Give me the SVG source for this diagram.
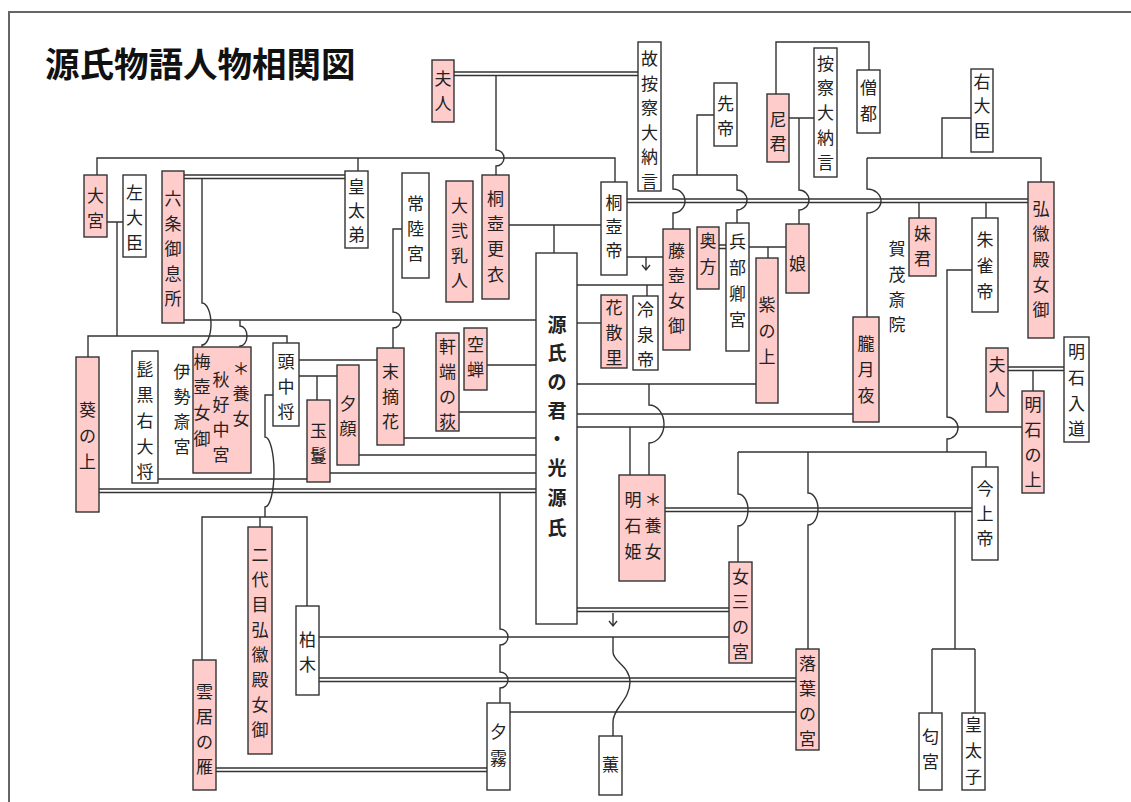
<svg xmlns="http://www.w3.org/2000/svg" width="1131" height="802" viewBox="0 0 1131 802">
<style>
.p{fill:#ffcccc;stroke:#333;stroke-width:1.4}
.w{fill:#fff;stroke:#333;stroke-width:1.4}
.t{font-family:"Noto Sans CJK JP","Noto Sans CJK SC",sans-serif;font-size:17px;text-anchor:middle;dominant-baseline:central;fill:#222}
.g{font-weight:bold;font-size:19px}
.c{fill:none;stroke:#333;stroke-width:1.4}
</style>
<rect width="1131" height="802" fill="#fff"/>
<path d="M9,802 V12 H1131" fill="none" stroke="#666" stroke-width="2"/>
<text x="45" y="77" font-family="'Noto Sans CJK JP','Noto Sans CJK SC',sans-serif" font-size="34.5" font-weight="bold" fill="#111">源氏物語人物相関図</text>

<g id="connectors" class="c">
<path d="M97,175 V158 H615 V182 M358,158 V171"/>
<path d="M454,72 H638 M454,75.5 H638"/>
<path d="M496,75.5 V150 A8 8 0 0 1 496,166 V175"/>
<path d="M107,222 H123 M117,222 V336 M88,357 V336 H287 V343"/>
<path d="M184,175 H345 M184,178.5 H345"/>
<path d="M202,178.5 V303 A9 21 0 0 1 202,345 V347"/>
<path d="M184,320 H536"/>
<path d="M240,320 V326 A7 10 0 0 1 240,346 V347"/>
<path d="M402,229 H393 V312 A8 8 0 0 1 393,328 V348"/>
<path d="M487,365 H536 M459,412 H536 M404,438 H536 M359,455 H536 M330,473 H536"/>
<path d="M99,489 H536 M99,492.5 H536"/>
<path d="M299,360 H377 M299,376 H337 M317,376 V400 M158,479 H307"/>
<path d="M273,395 H265 V437 A9 35 0 0 1 265,507 V517"/>
<path d="M202,660 V517 H307 V606 M260,517 V527"/>
<path d="M216,768 H487 M216,771.5 H487"/>
<path d="M319,637 H729"/>
<path d="M319,678 H796 M319,681.5 H796"/>
<path d="M500,492.5 V629 A8 8 0 0 1 500,645 V672 A8 8 0 0 1 500,688 V703"/>
<path d="M510,712 H796"/>
<path d="M577,608 H729 M577,611.5 H729"/>
<path d="M613,613 V626 M609,621 L613,626 L617,621"/>
<path d="M613,637 V652 C613,662 630,666 630,682 C630,700 613,708 613,722 V736"/>
<path d="M509,225 H601 M554,225 V253"/>
<path d="M627,199 H1028 M627,202.5 H1028"/>
<path d="M714,115 H697 V175 M673,175 H737"/>
<path d="M673,175 V189 A12 12 0 0 1 673,213 V229"/>
<path d="M737,175 V190 A10 10 0 0 1 737,210 V223"/>
<path d="M789,118 H814 M799,118 V190 A10 10 0 0 1 799,210 V224"/>
<path d="M776,94 V42 H869 V70"/>
<path d="M971,118 H942 V158 M867,158 H1041 V182"/>
<path d="M867,158 V189 A14 12 0 0 1 867,213 V317"/>
<path d="M919,202.5 V218 M986,202.5 V218"/>
<path d="M719,245 H726 M719,248.5 H726"/>
<path d="M749,247 H786 M768,247 V258"/>
<path d="M627,257 H663 M646,257 V270 M642,265 L646,270 L650,265"/>
<path d="M577,285 H663 M647,285 V296"/>
<path d="M577,323 H601"/>
<path d="M577,384 H756 M577,414 H853 M577,427 H1022"/>
<path d="M649,384 V405 A15 19 0 0 1 649,443 V475 M630,427 V475"/>
<path d="M665,508 H972 M665,511.5 H972"/>
<path d="M972,270 H947 V417 A11 11 0 0 1 947,439 V452 M738,452 H986 V467"/>
<path d="M738,452 V494 A10 16 0 0 1 738,526 V562"/>
<path d="M808,452 V493 A10 16 0 0 1 808,525 V649"/>
<path d="M955,511.5 V649 M932,649 H975 M932,649 V713 M975,649 V713"/>
<path d="M1008,367 H1064 M1008,370.5 H1064 M1033,370.5 V391"/>
</g>

<g id="n-oomiya"><rect class="p" x="84" y="175" width="23" height="62"/><text class="t"><tspan x="95.5" y="194">大</tspan><tspan x="95.5" y="219">宮</tspan></text></g>
<g id="n-sadaijin"><rect class="w" x="123" y="175" width="23" height="82"/><text class="t"><tspan x="134.5" y="191">左</tspan><tspan x="134.5" y="216">大</tspan><tspan x="134.5" y="241">臣</tspan></text></g>
<g id="n-rokujo"><rect class="p" x="162" y="171" width="22" height="152"/><text class="t"><tspan x="173" y="197">六</tspan><tspan x="173" y="222">条</tspan><tspan x="173" y="247">御</tspan><tspan x="173" y="272">息</tspan><tspan x="173" y="297">所</tspan></text></g>
<g id="n-kotaitei"><rect class="w" x="345" y="171" width="23" height="77"/><text class="t"><tspan x="356.5" y="185">皇</tspan><tspan x="356.5" y="209">太</tspan><tspan x="356.5" y="233">弟</tspan></text></g>
<g id="n-fujin1"><rect class="p" x="432" y="60" width="22" height="62"/><text class="t"><tspan x="443" y="77">夫</tspan><tspan x="443" y="102">人</tspan></text></g>
<g id="n-koazechi"><rect class="w" x="638" y="42" width="23" height="149"/><text class="t"><tspan x="649.5" y="57">故</tspan><tspan x="649.5" y="81.6">按</tspan><tspan x="649.5" y="106">察</tspan><tspan x="649.5" y="131">大</tspan><tspan x="649.5" y="155">納</tspan><tspan x="649.5" y="180">言</tspan></text></g>
<g id="n-sentei"><rect class="w" x="714" y="83" width="23" height="63"/><text class="t"><tspan x="725.5" y="102">先</tspan><tspan x="725.5" y="127">帝</tspan></text></g>
<g id="n-amagimi"><rect class="p" x="767" y="94" width="22" height="68"/><text class="t"><tspan x="778" y="118">尼</tspan><tspan x="778" y="142">君</tspan></text></g>
<g id="n-azechi"><rect class="w" x="814" y="48" width="23" height="129"/><text class="t"><tspan x="825.5" y="62">按</tspan><tspan x="825.5" y="86">察</tspan><tspan x="825.5" y="111">大</tspan><tspan x="825.5" y="136">納</tspan><tspan x="825.5" y="161">言</tspan></text></g>
<g id="n-sozu"><rect class="w" x="857" y="70" width="23" height="63"/><text class="t"><tspan x="868.5" y="86">僧</tspan><tspan x="868.5" y="112">都</tspan></text></g>
<g id="n-udaijin"><rect class="w" x="971" y="69" width="22" height="83"/><text class="t"><tspan x="982" y="80">右</tspan><tspan x="982" y="104">大</tspan><tspan x="982" y="129">臣</tspan></text></g>
<g id="n-hitachi"><rect class="w" x="402" y="173" width="27" height="105"/><text class="t"><tspan x="415.5" y="202">常</tspan><tspan x="415.5" y="227">陸</tspan><tspan x="415.5" y="252">宮</tspan></text></g>
<g id="n-daini"><rect class="p" x="446" y="181" width="27" height="121"/><text class="t"><tspan x="459.5" y="204">大</tspan><tspan x="459.5" y="229">弐</tspan><tspan x="459.5" y="254">乳</tspan><tspan x="459.5" y="279">人</tspan></text></g>
<g id="n-kiritsubokoi"><rect class="p" x="482" y="175" width="27" height="124"/><text class="t"><tspan x="495.5" y="197">桐</tspan><tspan x="495.5" y="222">壺</tspan><tspan x="495.5" y="247">更</tspan><tspan x="495.5" y="273">衣</tspan></text></g>
<g id="n-kiritsubotei"><rect class="w" x="601" y="182" width="26" height="93"/><text class="t"><tspan x="614" y="201">桐</tspan><tspan x="614" y="225">壺</tspan><tspan x="614" y="249">帝</tspan></text></g>
<g id="n-genji"><rect class="w" x="536" y="253" width="41" height="371"/><text class="t g"><tspan x="557" y="323">源</tspan><tspan x="557" y="351">氏</tspan><tspan x="557" y="380">の</tspan><tspan x="557" y="409">君</tspan><tspan x="557" y="437">・</tspan><tspan x="557" y="466">光</tspan><tspan x="557" y="496">源</tspan><tspan x="557" y="526">氏</tspan></text></g>
<g id="n-fujitsubo"><rect class="p" x="663" y="229" width="27" height="121"/><text class="t"><tspan x="676.5" y="249">藤</tspan><tspan x="676.5" y="274">壺</tspan><tspan x="676.5" y="299">女</tspan><tspan x="676.5" y="324">御</tspan></text></g>
<g id="n-okugata"><rect class="p" x="697" y="227" width="22" height="62"/><text class="t"><tspan x="708" y="239">奥</tspan><tspan x="708" y="265">方</tspan></text></g>
<g id="n-hyobukyo"><rect class="w" x="726" y="223" width="23" height="128"/><text class="t"><tspan x="737.5" y="240">兵</tspan><tspan x="737.5" y="266">部</tspan><tspan x="737.5" y="292">卿</tspan><tspan x="737.5" y="318">宮</tspan></text></g>
<g id="n-murasaki"><rect class="p" x="756" y="258" width="22" height="145"/><text class="t"><tspan x="767" y="303">紫</tspan><tspan x="767" y="329">の</tspan><tspan x="767" y="355">上</tspan></text></g>
<g id="n-musume"><rect class="p" x="786" y="224" width="23" height="69"/><text class="t"><tspan x="797.5" y="262">娘</tspan></text></g>
<g id="n-imogimi"><rect class="p" x="909" y="218" width="27" height="58"/><text class="t"><tspan x="922.5" y="232">妹</tspan><tspan x="922.5" y="257">君</tspan></text></g>
<g id="n-suzaku"><rect class="w" x="972" y="218" width="26" height="94"/><text class="t"><tspan x="985" y="238">朱</tspan><tspan x="985" y="264">雀</tspan><tspan x="985" y="290">帝</tspan></text></g>
<g id="n-kokiden"><rect class="p" x="1028" y="182" width="26" height="156"/><text class="t"><tspan x="1041" y="207">弘</tspan><tspan x="1041" y="232">徽</tspan><tspan x="1041" y="258">殿</tspan><tspan x="1041" y="283">女</tspan><tspan x="1041" y="308">御</tspan></text></g>
<g id="n-oborozukiyo"><rect class="p" x="853" y="317" width="26" height="105"/><text class="t"><tspan x="866" y="342">朧</tspan><tspan x="866" y="368">月</tspan><tspan x="866" y="394">夜</tspan></text></g>
<g id="n-kamo"><text class="t"><tspan x="897" y="247">賀</tspan><tspan x="897" y="273">茂</tspan><tspan x="897" y="298">斎</tspan><tspan x="897" y="323">院</tspan></text></g>
<g id="n-hanachirusato"><rect class="p" x="601" y="295" width="26" height="73"/><text class="t"><tspan x="614" y="306">花</tspan><tspan x="614" y="331">散</tspan><tspan x="614" y="356">里</tspan></text></g>
<g id="n-reizei"><rect class="w" x="633" y="296" width="25" height="74"/><text class="t"><tspan x="645.5" y="308">冷</tspan><tspan x="645.5" y="333">泉</tspan><tspan x="645.5" y="358">帝</tspan></text></g>
<g id="n-utsusemi"><rect class="p" x="464" y="328" width="23" height="62"/><text class="t"><tspan x="475.5" y="343">空</tspan><tspan x="475.5" y="368">蝉</tspan></text></g>
<g id="n-nokiba"><rect class="p" x="436" y="333" width="23" height="98"/><text class="t"><tspan x="447.5" y="345">軒</tspan><tspan x="447.5" y="370">端</tspan><tspan x="447.5" y="395">の</tspan><tspan x="447.5" y="420">荻</tspan></text></g>
<g id="n-suetsumuhana"><rect class="p" x="377" y="348" width="27" height="97"/><text class="t"><tspan x="390.5" y="370">末</tspan><tspan x="390.5" y="395">摘</tspan><tspan x="390.5" y="420">花</tspan></text></g>
<g id="n-aoi"><rect class="p" x="76" y="357" width="23" height="155"/><text class="t"><tspan x="87.5" y="408">葵</tspan><tspan x="87.5" y="434">の</tspan><tspan x="87.5" y="460">上</tspan></text></g>
<g id="n-higekuro"><rect class="w" x="132" y="351" width="26" height="132"/><text class="t"><tspan x="145" y="368">髭</tspan><tspan x="145" y="393">黒</tspan><tspan x="145" y="419">右</tspan><tspan x="145" y="445">大</tspan><tspan x="145" y="470">将</tspan></text></g>
<g id="n-ise"><text class="t"><tspan x="182" y="370">伊</tspan><tspan x="182" y="395">勢</tspan><tspan x="182" y="420">斎</tspan><tspan x="182" y="445">宮</tspan></text></g>
<g id="n-akikonomu"><rect class="p" x="193" y="347" width="58" height="126"/><text class="t"><tspan x="202" y="360">梅</tspan><tspan x="202" y="385">壺</tspan><tspan x="202" y="411">女</tspan><tspan x="202" y="437">御</tspan><tspan x="221" y="378">秋</tspan><tspan x="221" y="403">好</tspan><tspan x="221" y="428">中</tspan><tspan x="221" y="453">宮</tspan><tspan x="241" y="367">＊</tspan><tspan x="241" y="392">養</tspan><tspan x="241" y="417">女</tspan></text></g>
<g id="n-tonochujo"><rect class="w" x="273" y="343" width="26" height="83"/><text class="t"><tspan x="286" y="360">頭</tspan><tspan x="286" y="385">中</tspan><tspan x="286" y="410">将</tspan></text></g>
<g id="n-tamakazura"><rect class="p" x="307" y="400" width="23" height="82"/><text class="t"><tspan x="318.5" y="429">玉</tspan><tspan x="318.5" y="454">鬘</tspan></text></g>
<g id="n-yugao"><rect class="p" x="337" y="365" width="22" height="100"/><text class="t"><tspan x="348" y="402">夕</tspan><tspan x="348" y="427">顔</tspan></text></g>
<g id="n-akashihime"><rect class="p" x="619" y="475" width="46" height="106"/><text class="t"><tspan x="633" y="498">明</tspan><tspan x="633" y="524">石</tspan><tspan x="633" y="550">姫</tspan><tspan x="653" y="498">＊</tspan><tspan x="653" y="524">養</tspan><tspan x="653" y="550">女</tspan></text></g>
<g id="n-fujin2"><rect class="p" x="986" y="348" width="22" height="64"/><text class="t"><tspan x="997" y="363">夫</tspan><tspan x="997" y="388">人</tspan></text></g>
<g id="n-akashinyudo"><rect class="w" x="1064" y="337" width="25" height="105"/><text class="t"><tspan x="1076.5" y="350">明</tspan><tspan x="1076.5" y="376">石</tspan><tspan x="1076.5" y="402">入</tspan><tspan x="1076.5" y="427">道</tspan></text></g>
<g id="n-akashinoue"><rect class="p" x="1022" y="391" width="22" height="102"/><text class="t"><tspan x="1033" y="403">明</tspan><tspan x="1033" y="428">石</tspan><tspan x="1033" y="453">の</tspan><tspan x="1033" y="478">上</tspan></text></g>
<g id="n-kinjo"><rect class="w" x="972" y="467" width="26" height="93"/><text class="t"><tspan x="985" y="487">今</tspan><tspan x="985" y="512">上</tspan><tspan x="985" y="537">帝</tspan></text></g>
<g id="n-onnasan"><rect class="p" x="729" y="562" width="23" height="101"/><text class="t"><tspan x="740.5" y="575">女</tspan><tspan x="740.5" y="600">三</tspan><tspan x="740.5" y="625">の</tspan><tspan x="740.5" y="650">宮</tspan></text></g>
<g id="n-ochiba"><rect class="p" x="796" y="649" width="23" height="101"/><text class="t"><tspan x="807.5" y="662">落</tspan><tspan x="807.5" y="687">葉</tspan><tspan x="807.5" y="712">の</tspan><tspan x="807.5" y="737">宮</tspan></text></g>
<g id="n-niou"><rect class="w" x="919" y="713" width="23" height="77"/><text class="t"><tspan x="930.5" y="735">匂</tspan><tspan x="930.5" y="760">宮</tspan></text></g>
<g id="n-kotaishi"><rect class="w" x="962" y="713" width="23" height="77"/><text class="t"><tspan x="973.5" y="723">皇</tspan><tspan x="973.5" y="749">太</tspan><tspan x="973.5" y="775">子</tspan></text></g>
<g id="n-kumoinokari"><rect class="p" x="193" y="660" width="23" height="130"/><text class="t"><tspan x="204.5" y="690">雲</tspan><tspan x="204.5" y="715">居</tspan><tspan x="204.5" y="740">の</tspan><tspan x="204.5" y="765">雁</tspan></text></g>
<g id="n-kokiden2"><rect class="p" x="248" y="527" width="24" height="227"/><text class="t"><tspan x="260" y="553">二</tspan><tspan x="260" y="578">代</tspan><tspan x="260" y="603">目</tspan><tspan x="260" y="628">弘</tspan><tspan x="260" y="653">徽</tspan><tspan x="260" y="678">殿</tspan><tspan x="260" y="703">女</tspan><tspan x="260" y="728">御</tspan></text></g>
<g id="n-kashiwagi"><rect class="w" x="296" y="606" width="23" height="89"/><text class="t"><tspan x="307.5" y="638">柏</tspan><tspan x="307.5" y="663">木</tspan></text></g>
<g id="n-yugiri"><rect class="w" x="487" y="703" width="23" height="87"/><text class="t"><tspan x="498.5" y="730">夕</tspan><tspan x="498.5" y="757">霧</tspan></text></g>
<g id="n-kaoru"><rect class="w" x="599" y="736" width="23" height="59"/><text class="t"><tspan x="610.5" y="763">薫</tspan></text></g>
</svg>
